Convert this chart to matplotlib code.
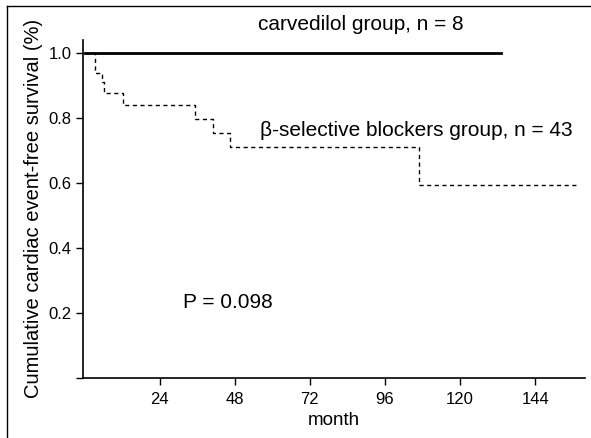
import matplotlib
matplotlib.use("Agg")
import matplotlib.pyplot as plt
from matplotlib.lines import Line2D

# Kaplan-Meier steps
carv_time = [0, 133]
carv_surv = [1.0, 1.0]

beta_time = [0, 3.5, 5.6, 6.1, 12.2, 35.2, 41.1, 46.6, 107, 157]
beta_surv = [1.0, 0.937, 0.911, 0.876, 0.840, 0.796, 0.753, 0.710, 0.595, 0.595]

x_ticks = [24, 48, 72, 96, 120, 144]
y_ticks = [0.0, 0.2, 0.4, 0.6, 0.8, 1.0]
y_labels = ["", "0.2", "0.4", "0.6", "0.8", "1.0"]

plt.rcParams['font.family'] = ['Liberation Sans', 'DejaVu Sans']
tick_font = ['Liberation Sans Narrow', 'Liberation Sans', 'DejaVu Sans']

fig = plt.figure(figsize=(5.91, 4.38), dpi=100)
ax = fig.add_axes([0.1404, 0.137, 0.85, 0.772])

# step curves
ax.step(carv_time, carv_surv, where='post', color='black', lw=2.0)
ax.step(beta_time, beta_surv, where='post', color='black', lw=1.0,
        linestyle=(0, (3, 2.5)))

ax.set_xlim(-0.5, 160)
ax.set_ylim(0, 1.04)
ax.set_xticks(x_ticks)
ax.set_xticklabels([str(t) for t in x_ticks], family=tick_font, fontsize=12)
ax.set_yticks(y_ticks)
ax.set_yticklabels(y_labels, family=tick_font, fontsize=12)
ax.tick_params(direction='out', length=5, width=1, pad=3)
ax.tick_params(axis='x', pad=5)

for s in ['top', 'right']:
    ax.spines[s].set_visible(False)
for s in ['left', 'bottom']:
    ax.spines[s].set_linewidth(1.2)

ax.set_xlabel("month", fontsize=13.5, labelpad=4)
ax.set_ylabel("Cumulative cardiac event-free survival (%)", fontsize=14.5,
              labelpad=4)

# annotations
ax.text(0.349, 1.044, "carvedilol group, n = 8", fontsize=15,
        transform=ax.transAxes, ha='left', va='center')
ax.text(0.353, 0.731, "\u03b2-selective blockers group, n = 43", fontsize=15,
        transform=ax.transAxes, ha='left', va='center')
ax.text(0.199, 0.222, "P = 0.098", fontsize=15, transform=ax.transAxes,
        ha='left', va='center')

# border of the scanned figure (left and top edges)
fig.add_artist(Line2D([0.012, 0.012], [0, 0.986], transform=fig.transFigure,
                      color='black', lw=1))
fig.add_artist(Line2D([0.012, 1.0], [0.986, 0.986], transform=fig.transFigure,
                      color='black', lw=1))

fig.savefig("out.png", dpi=100)
